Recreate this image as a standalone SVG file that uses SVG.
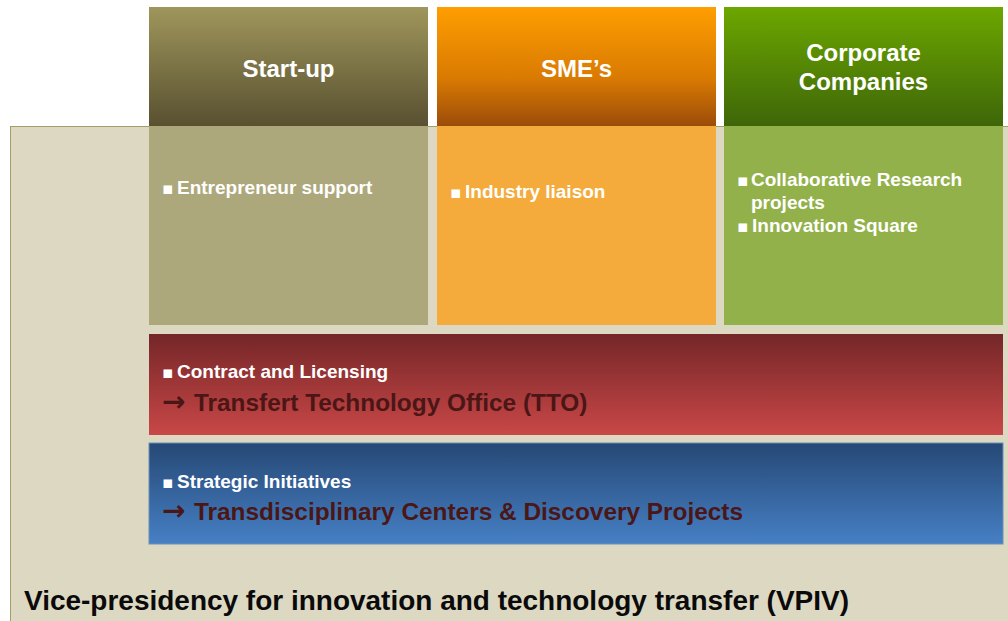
<svg xmlns="http://www.w3.org/2000/svg" width="1008" height="621" viewBox="0 0 1008 621">
<defs>
<linearGradient id="gStart" x1="0" y1="0" x2="0" y2="1"><stop offset="0" stop-color="#9F965C"/><stop offset="1" stop-color="#585030"/></linearGradient>
<linearGradient id="gSme" x1="0" y1="0" x2="0" y2="1"><stop offset="0" stop-color="#FF9E00"/><stop offset="0.6" stop-color="#D97A02"/><stop offset="1" stop-color="#9C4C0A"/></linearGradient>
<linearGradient id="gCorp" x1="0" y1="0" x2="0" y2="1"><stop offset="0" stop-color="#6CA700"/><stop offset="1" stop-color="#3E6609"/></linearGradient>
<linearGradient id="gRed" x1="0" y1="0" x2="0" y2="1"><stop offset="0" stop-color="#742628"/><stop offset="1" stop-color="#C94747"/></linearGradient>
<linearGradient id="gBlue" x1="0" y1="0" x2="0" y2="1"><stop offset="0" stop-color="#264875"/><stop offset="1" stop-color="#4680C5"/></linearGradient>
</defs>
<style>
.hd{font-family:"Liberation Sans",Arial,sans-serif;font-weight:bold;font-size:24px;fill:#FFFFFF;text-anchor:middle}
.bl{font-family:"Liberation Sans",Arial,sans-serif;font-weight:bold;font-size:19px;fill:#FFFFFF}
.bu{font-family:"DejaVu Sans",sans-serif;font-size:17px}
.big{font-family:"Liberation Sans",Arial,sans-serif;font-weight:bold;font-size:24.4px;fill:#4A1616}
.arr{font-family:"DejaVu Sans",sans-serif;font-weight:bold;font-size:28px}
.ft{font-family:"Liberation Sans",Arial,sans-serif;font-weight:bold;font-size:28px;fill:#0A0A0A}
</style>
<rect width="1008" height="621" fill="#FFFFFF"/>
<g id="vpiv">
<rect x="10.5" y="126.5" width="1010" height="500" fill="#DDD8C2" stroke="#A39D6A" stroke-width="1"/>
<text class="ft" x="24" y="610" textLength="825" lengthAdjust="spacingAndGlyphs">Vice-presidency for innovation and technology transfer (VPIV)</text>
</g>
<g id="startup">
<rect x="149" y="7" width="279" height="119" fill="url(#gStart)"/>
<rect x="149" y="126" width="279" height="199" fill="#ADA87C"/>
<text class="hd" x="288.5" y="77">Start-up</text>
<text class="bl" x="162" y="194"><tspan class="bu">▪</tspan><tspan x="177">Entrepreneur support</tspan></text>
</g>
<g id="sme">
<rect x="437" y="7" width="279" height="119" fill="url(#gSme)"/>
<rect x="437" y="126" width="279" height="199" fill="#F4AB3B"/>
<text class="hd" x="576.5" y="77">SME’s</text>
<text class="bl" x="450" y="198"><tspan class="bu">▪</tspan><tspan x="465">Industry liaison</tspan></text>
</g>
<g id="corporate">
<rect x="724" y="7" width="279" height="119" fill="url(#gCorp)"/>
<rect x="724" y="126" width="279" height="199" fill="#93B14B"/>
<text class="hd" x="863.5" y="61">Corporate</text>
<text class="hd" x="863.5" y="90">Companies</text>
<text class="bl" x="737" y="186"><tspan class="bu">▪</tspan><tspan x="751">Collaborative Research</tspan></text>
<text class="bl" x="751" y="209">projects</text>
<text class="bl" x="737" y="232"><tspan class="bu">▪</tspan><tspan x="752">Innovation Square</tspan></text>
</g>
<g id="tto">
<rect x="149" y="334" width="854" height="101" fill="url(#gRed)"/>
<text class="bl" x="162" y="378"><tspan class="bu">▪</tspan><tspan x="177">Contract and Licensing</tspan></text>
<text class="big" x="162" y="411"><tspan class="arr">→</tspan><tspan x="194">Transfert Technology Office (TTO)</tspan></text>
</g>
<g id="strategic">
<rect x="149" y="443" width="854" height="101" fill="url(#gBlue)" stroke="#6A8FB8" stroke-width="1"/>
<text class="bl" x="162" y="488"><tspan class="bu">▪</tspan><tspan x="177">Strategic Initiatives</tspan></text>
<text class="big" x="162" y="520"><tspan class="arr">→</tspan><tspan x="194">Transdisciplinary Centers &amp; Discovery Projects</tspan></text>
</g>
<g id="connectors"/>
</svg>
